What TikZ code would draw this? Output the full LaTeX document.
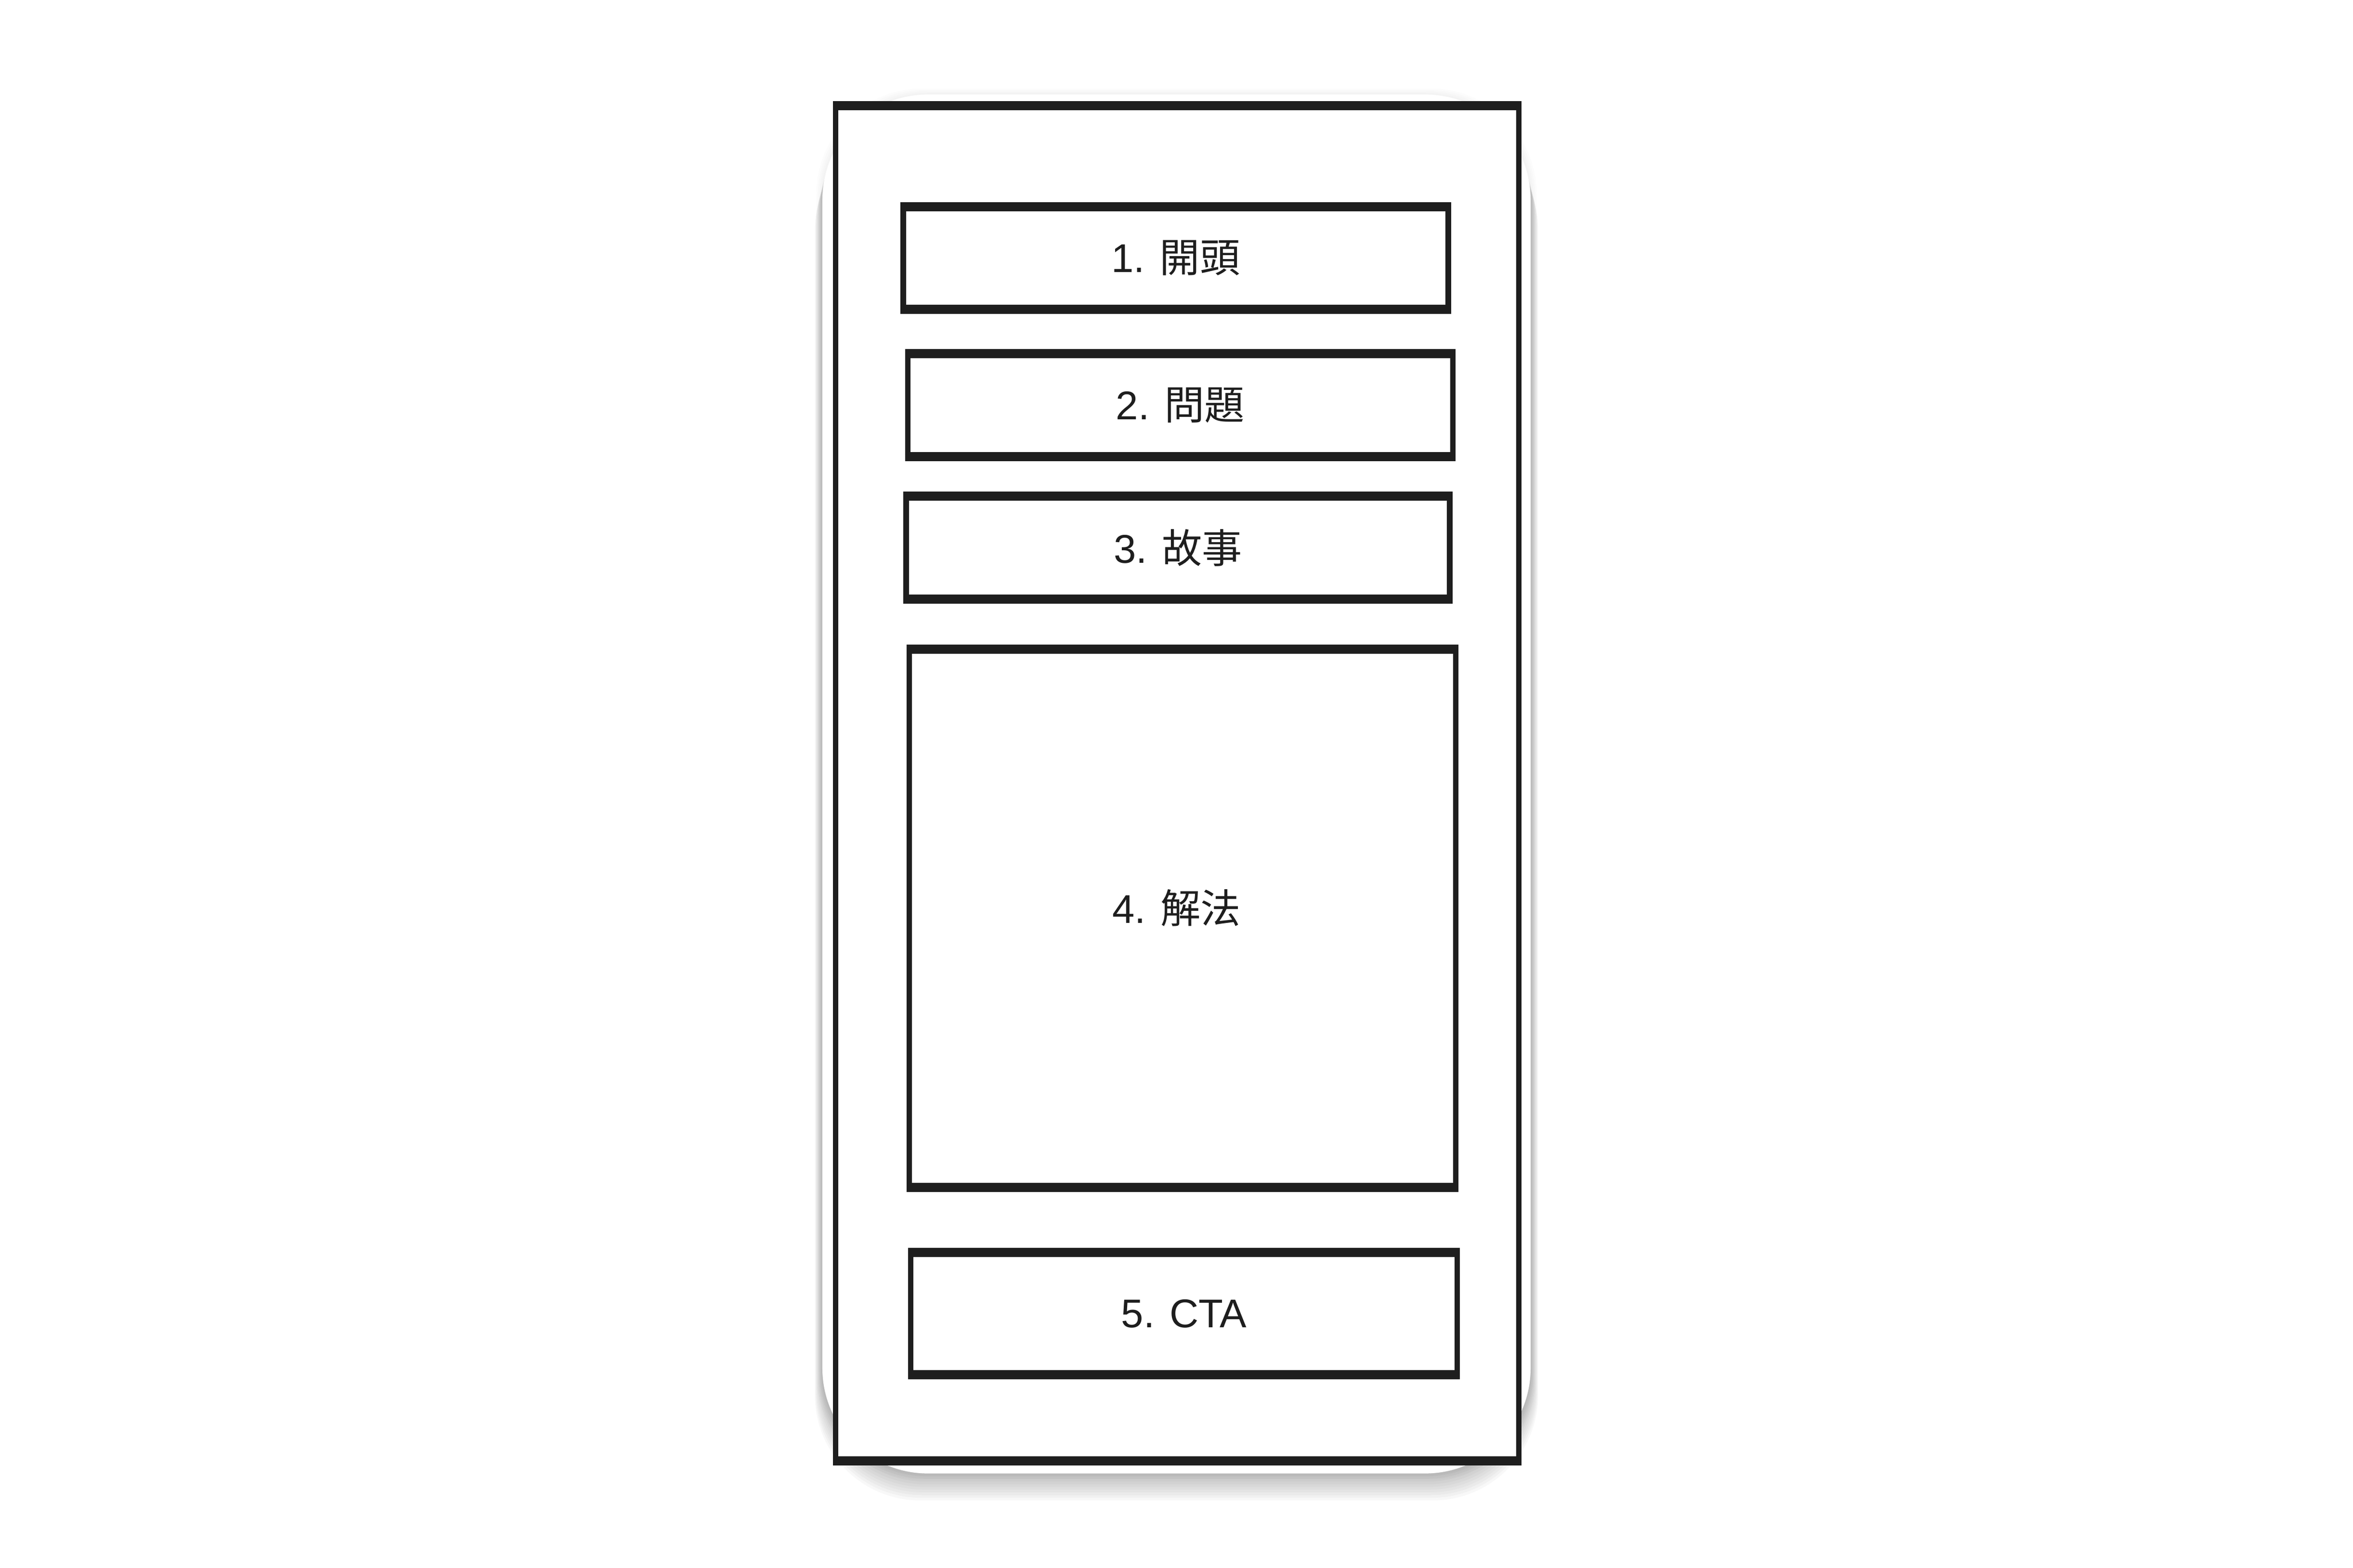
\documentclass[tikz,border=0pt]{standalone}
\usepackage{fontspec}
\setmainfont{Liberation Sans}
\newfontfamily\cjk{Noto Sans CJK TC}
\definecolor{ink}{HTML}{1E1E1E}

\begin{document}
\begin{tikzpicture}[x=0.01cm, y=-0.01cm,
    sketch/.style={draw=ink, line width=1.05pt, fill=white, inner sep=0pt,
      font=\fontsize{7.6}{9}\selectfont, text=ink,
      append after command={
        (\tikzlastnode.north west) edge[ink, line width=1.4pt] (\tikzlastnode.north east)
        (\tikzlastnode.south west) edge[ink, line width=1.4pt] (\tikzlastnode.south east)}},
    part/.style={sketch, minimum width=3.63cm, minimum height=0.66cm}]
      \useasboundingbox (0,0) rectangle (1568,1045);

      % soft shadow round and under the card
      \foreach \i in {1,...,4}
        \fill[black, opacity=0.012, rounded corners=20]
        (548-\i,63-\i) rectangle (1020+\i,982+\i);
      \foreach \i in {1,...,10}
        \fill[black, opacity=0.026, rounded corners=20]
        (548-0.5*\i,63+2*\i) rectangle (1020+0.5*\i,982+1.8*\i);
      \fill[white, rounded corners=20] (548,63) rectangle (1020,982);

      \node[sketch, minimum width=4.55cm, minimum height=9cm] (page) at (784.5,522) {};

      \node[part] (hook)     at (783.5,172) {1. {\cjk 開頭}};
      \node[part] (problem)  at (786.5,270) {2. {\cjk 問題}};
      \node[part, minimum width=3.62cm] (story) at (785,365) {3. {\cjk 故事}};
      \node[part, minimum width=3.64cm, minimum height=3.56cm] (solution) at (788,612) {};
      \node[part, minimum width=3.64cm, minimum height=0.79cm] (cta) at (789,875.5) {5. CTA};

      \node[font=\fontsize{7.6}{9}\selectfont, text=ink] (sollabel) at (784,605) {4. {\cjk 解法}};
\end{tikzpicture}
\end{document}
